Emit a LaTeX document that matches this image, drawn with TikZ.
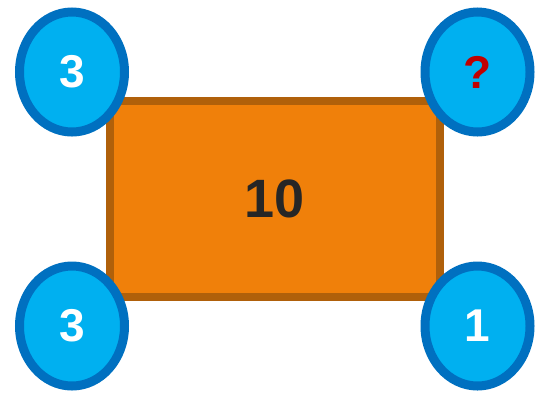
\documentclass[tikz,border=0pt]{standalone}
\usepackage{fontspec}
\setmainfont{Liberation Sans}
\usetikzlibrary{shapes.geometric}
\definecolor{bluefill}{HTML}{00B0F0}
\definecolor{blueedge}{HTML}{0070C0}
\definecolor{orfill}{HTML}{F0800A}
\definecolor{oredge}{HTML}{B0600A}
\definecolor{darktext}{HTML}{262626}
\definecolor{redq}{HTML}{C00000}
\begin{document}
\begin{tikzpicture}[x=1pt,y=-1pt,
  circ/.style={ellipse, draw=blueedge, fill=bluefill, line width=9pt,
    minimum width=105pt, minimum height=120pt, inner sep=0pt,
    font=\fontsize{46}{46}\selectfont\bfseries, text=white},
  box/.style={rectangle, draw=oredge, fill=orfill, line width=8pt,
    minimum width=330pt, minimum height=196pt, inner sep=0pt,
    font=\fontsize{54}{54}\selectfont\bfseries, text=darktext}]
\useasboundingbox (0,0) rectangle (543,392);
\node[box] (r) at (275,199) {10};
\node[circ] (tl) at (72,72) {3};
\node[circ] (tr) at (477.5,72) {\textcolor{redq}{?}};
\node[circ] (bl) at (72,326) {3};
\node[circ] (br) at (477.5,326) {1};
\end{tikzpicture}
\end{document}
